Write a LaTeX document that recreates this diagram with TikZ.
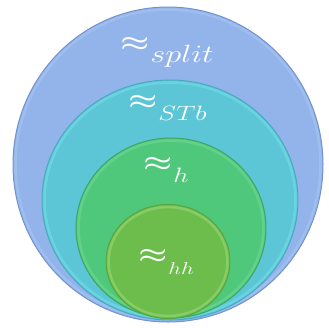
\documentclass[tikz,border=0pt]{standalone}
\usepackage{tikz}

\definecolor{splitfill}{HTML}{92B4EA}
\definecolor{splitedge}{HTML}{7393D0}
\definecolor{splitrim}{HTML}{A9C6F2}
\definecolor{stbfill}{HTML}{5CC6D6}
\definecolor{stbedge}{HTML}{4AA9C2}
\definecolor{stbrim}{HTML}{74DDE8}
\definecolor{hfill}{HTML}{50C87C}
\definecolor{hedge}{HTML}{3FA667}
\definecolor{hrim}{HTML}{6ED994}
\definecolor{hhfill}{HTML}{6CBD4C}
\definecolor{hhedge}{HTML}{58A53C}
\definecolor{hhrim}{HTML}{9CD77A}

% approx sign with a lowered subscript
\newcommand{\eqvlbl}[2]{%
  {\boldmath$\approx$}\kern1pt\raisebox{-12pt}{\fontsize{#1}{#1}\selectfont$#2$}}

\begin{document}
\begin{tikzpicture}[x=1pt, y=-1pt,
  ring/.style={line width=1pt},
  rim/.style={line width=2.5pt, opacity=0.6},
  lbl/.style={text=white, anchor=base west, inner sep=0pt, xscale=1.3,
    font=\fontsize{24}{24}\selectfont},
]
  \useasboundingbox (0,0) rectangle (329,327);

  % --- nested rings ---
  \draw[ring, fill=splitfill, draw=splitedge] (168,164.5) ellipse [x radius=155, y radius=157.5];
  \draw[rim, draw=splitrim] (168,164.5) ellipse [x radius=152.5, y radius=155];
  \draw[ring, fill=stbfill, draw=stbedge] (170,200) ellipse [x radius=128, y radius=120];
  \draw[rim, draw=stbrim] (170,200) ellipse [x radius=125.5, y radius=117.5];
  \draw[ring, fill=hfill, draw=hedge] (171,228) ellipse [x radius=95, y radius=90];
  \draw[rim, draw=hrim] (171,228) ellipse [x radius=92.5, y radius=87.5];
  \draw[ring, fill=hhfill, draw=hhedge] (168,261.5) ellipse [x radius=62, y radius=57];
  \draw[rim, draw=hhrim] (168,261.5) ellipse [x radius=59.5, y radius=54.5];

  % --- labels ---
  \node[lbl] (lblsplit) at (120,50.5) {\eqvlbl{24}{split}};
  \node[lbl] (lblstb) at (128,108) {\eqvlbl{22}{STb}};
  \node[lbl] (lblh) at (143,170) {\eqvlbl{20}{h}};
  \node[lbl] (lblhh) at (138,262) {\eqvlbl{19}{hh}};

\end{tikzpicture}
\end{document}
